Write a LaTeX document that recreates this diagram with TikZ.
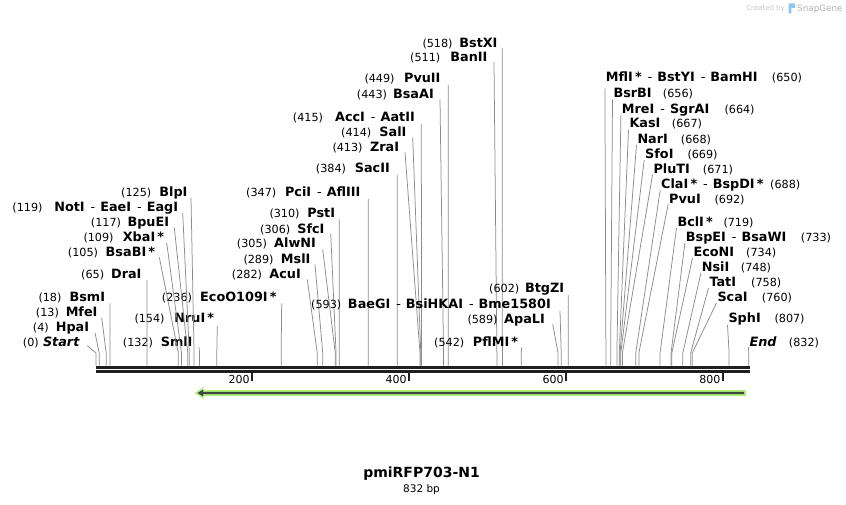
\documentclass[tikz,border=0pt]{standalone}
\usepackage{fontspec}
\setmainfont{DejaVu Sans}
\usetikzlibrary{arrows.meta}
\definecolor{featgreen}{RGB}{176,240,120}
\definecolor{featdark}{RGB}{62,72,62}
\definecolor{cutgray}{RGB}{140,140,140}
\definecolor{logoblue}{RGB}{140,200,240}
\newcommand\sepr{\hspace{6pt}{\mdseries -}\hspace{5pt}}
\begin{document}
\begin{tikzpicture}[x=1pt,y=-1pt,
  numtxt/.style={font=\fontsize{11.2}{13}\selectfont, inner sep=0, anchor=base west},
  nmL/.style={font=\fontsize{12.8}{15}\selectfont\bfseries, inner sep=0, anchor=base east},
  nmR/.style={font=\fontsize{12.8}{15}\selectfont\bfseries, inner sep=0, anchor=base west},
  cutline/.style={draw=cutgray, line width=0.75pt},
  backbone/.style={draw=black!88, line width=2.9pt},
  tickmark/.style={draw=black!88, line width=1.8pt},
  ticklbl/.style={font=\fontsize{11}{13}\selectfont, inner sep=0, anchor=base east}]
\useasboundingbox[fill=white] (0,0) rectangle (846,505);

% left-side labels
\foreach \id/\xn/\num/\xr/\yc/\nm/\pos/\lx/\ly in {
 a/422.3/518/497.7/42.7/BstXI/518/502.3/48.3,
 b/410/511/487.7/56.7/BanII/511/494/62,
 c/364.3/449/440.7/78.3/PvuII/449/448.3/85,
 d/356.7/443/434/94/BsaAI/443/440/99.3,
 e/292.7/415/415/117.3/{AccI\sepr AatII}/415/421.3/124,
 f/341/414/406.7/131.7/SalI/414/412.7/137.3,
 g/332.3/413/399.3/146.7/ZraI/413/405/152.3,
 h/315.7/384/390/168.3/SacII/384/397.3/175,
 i/246/347/360.7/191.7/{PciI\sepr AflIII}/347/368.3/199,
 j/269.3/310/335.3/213.3/PstI/310/339.3/219.3,
 k/260/306/324.7/229/SfcI/306/330.7/233.3,
 l/236.7/305/316/243.3/AlwNI/305/322.7/249.3,
 m/243.3/289/310.7/259/MslI/289/315/264.3,
 n/231.7/282/301/274/AcuI/282/307.3/279.3,
 o/161.7/236/276.7/296.7/{EcoO109I\,*}/236/281.7/303.3,
 p/489/602/564.3/288.3/BtgZI/602/568.3/295,
 q/311/593/551/304/{BaeGI\sepr BsiHKAI\sepr Bme1580I}/593/560/311,
 r/467.3/589/545/319/ApaLI/589/552.7/324.3,
 s/434/542/518.3/342.3/{PflMI\,*}/542/521.7/347.3,
 t/134.3/154/214.3/318.3/{NruI\,*}/154/217.3/325.7,
 u/122.7/132/192.7/341.7/SmlI/132/199/347.3,
 v/121/125/187.7/192.3/BlpI/125/191/198,
 w/12.3/119/178.3/206.7/{NotI\sepr EaeI\sepr EagI}/119/182.7/213,
 x/90.7/117/169.3/221.7/BpuEI/117/174.3/227.7,
 y/83.3/109/164.3/236.7/{XbaI\,*}/109/166.7/242.7,
 z/67.7/105/155.3/251.7/{BsaBI\,*}/105/159.3/257.3,
 aa/81/65/141.7/274.3/DraI/65/147/280,
 ab/38.3/18/105.3/297.3/BsmI/18/110/303.3,
 ac/35.7/13/97.7/312.3/MfeI/13/101.7/317.7,
 ad/32.7/4/89.3/326.7/HpaI/4/95/332.7,
 ae/22.7/0/80/341.7/{\textit{Start}}/0/87.3/345.7}{
  \node[numtxt] (Ln\id) at (\xn,\yc+4.6) {(\num)};
  \node[nmL] (Ll\id) at (\xr,\yc+4.6) {\nm};
  \coordinate (Lt\id) at (\lx,\ly);
  \coordinate (Lk\id) at (96+0.7845*\pos,353);
  \coordinate (Ls\id) at (96+0.7845*\pos,365.5);
  \draw[cutline] (Lt\id) -- (Lk\id) -- (Ls\id);
}

% right-side labels
\foreach \id/\xl/\yc/\xn/\num/\nm/\pos/\ly in {
 A/605.7/77/771.7/650/{MflI\,*\sepr BstYI\sepr BamHI}/650/88.3,
 B/613.3/93.3/662.7/656/BsrBI/656/99.3,
 C/621.7/109.3/724.3/664/{MreI\sepr SgrAI}/664/115,
 D/629.3/123.3/671.7/667/KasI/667/130,
 E/637.3/139/680.7/668/NarI/668/145,
 F/645/154.3/687.3/669/SfoI/669/160,
 G/653.3/169/702.7/671/PluTI/671/175,
 H/661/184/770/688/{ClaI\,*\sepr BspDI\,*}/688/190,
 I/669/199.3/714.3/692/PvuI/692/204,
 J/677.3/221.7/723.3/719/{BclI\,*}/719/228,
 K/685.7/236.7/800.7/733/{BspEI\sepr BsaWI}/733/243,
 L/693.3/251.7/746/734/EcoNI/734/258,
 M/701.7/266.7/740.7/748/NsiI/748/273,
 N/709.3/281.7/751/758/TatI/758/288,
 O/717.3/297.3/761.7/760/ScaI/760/303,
 P/728.3/318.3/774.3/807/SphI/807/325,
 Q/749.3/341.7/788.7/832/{\textit{End}}/832/347}{
  \node[nmR] (Rl\id) at (\xl,\yc+4.6) {\nm};
  \node[numtxt] (Rn\id) at (\xn,\yc+4.6) {(\num)};
  \coordinate (Rt\id) at (\xl-0.8,\ly);
  \coordinate (Rk\id) at (96+0.7845*\pos,353);
  \coordinate (Rs\id) at (96+0.7845*\pos,365.5);
  \draw[cutline] (Rt\id) -- (Rk\id) -- (Rs\id);
}

% backbone
\coordinate (bbL) at (96,0);
\coordinate (bbR) at (749.5,0);
\draw[backbone] (bbL |- 0,367.2) -- (bbR |- 0,367.2);
\draw[backbone] (bbL |- 0,371.4) -- (bbR |- 0,371.4);

% ticks
\foreach \p in {200,400,600,800}{
  \coordinate (tk\p) at (95+0.7845*\p,372.5);
  \coordinate (te\p) at (95+0.7845*\p,380.5);
  \draw[tickmark] (tk\p) -- (te\p);
  \node[ticklbl] (tl\p) at (93+0.7845*\p,383) {\p};
}

% feature arrow
\coordinate (fR) at (746,393);
\coordinate (fL) at (194.5,393);
\fill[featgreen] (fR) ++(0,-3) -- (203.5,390) -- (203.5,387.2) -- (fL) -- (203.5,398.8) -- (203.5,396) -- (746,396) -- cycle;
\fill[featdark] (744,391.8) -- (203,391.8) -- (203,389.6) -- (197.5,393) -- (203,396.4) -- (203,394.2) -- (744,394.2) -- cycle;

% title
\node[font=\fontsize{14}{16}\selectfont\bfseries, inner sep=0] (title) at (421.5,474) {pmiRFP703-N1};
\node[font=\fontsize{10.5}{12}\selectfont, inner sep=0] (size) at (421.5,490) {832 bp};

% watermark
\node[font=\fontsize{7}{9}\selectfont, text=black!22, inner sep=0, anchor=base east] (wm1) at (785,11) {Created by};
\fill[logoblue] (788.5,3.5) rectangle (795,8) (788.5,3.5) rectangle (791.3,13.5);
\node[font=\fontsize{8.8}{11}\selectfont, text=black!30, inner sep=0, anchor=base west] (wm2) at (797,11.5) {SnapGene};
\end{tikzpicture}
\end{document}
